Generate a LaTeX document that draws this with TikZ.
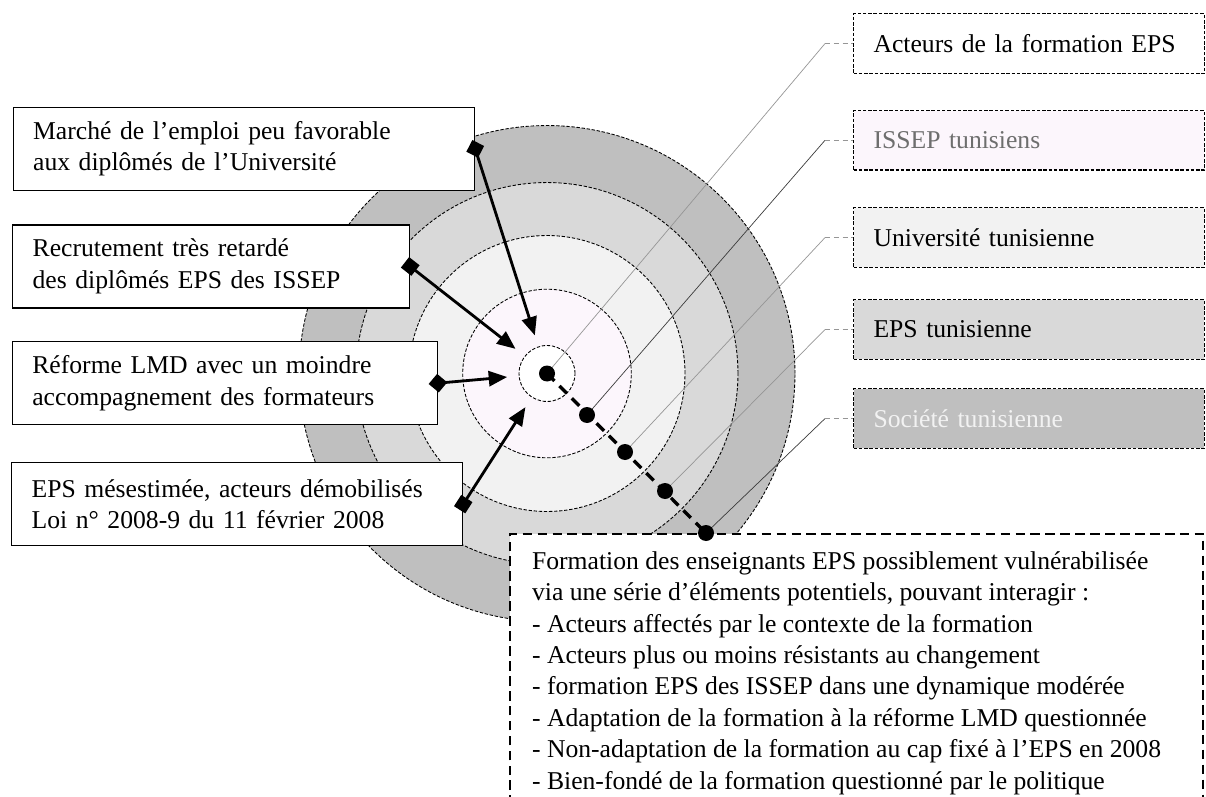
\documentclass[tikz,border=0pt]{standalone}
\usepackage{fontspec}
\setmainfont{Liberation Serif}
\usetikzlibrary{arrows.meta, calc}
\definecolor{soc}{RGB}{191,191,191}
\definecolor{eps}{RGB}{217,217,217}
\definecolor{univ}{RGB}{242,242,242}
\definecolor{issep}{RGB}{252,246,252}
\definecolor{greytxt}{RGB}{110,110,110}
\definecolor{lightlead}{RGB}{150,150,150}
\definecolor{darklead}{RGB}{60,60,60}

\begin{document}
\begin{tikzpicture}[x=0.02cm, y=-0.02cm,
		every node/.style={font=\fontsize{14.6}{17.9}\selectfont},
		ring/.style={draw=black, line width=0.5pt, dash pattern=on 1.9pt off 1pt},
		causebox/.style={draw=black, line width=0.75pt, fill=white, anchor=north west, align=left, inner xsep=0.4cm, minimum height=1.66cm, text width=#1},
		levelbox/.style={draw=black, line width=0.6pt, dash pattern=on 2pt off 1pt, anchor=north west, align=left, inner xsep=0.4cm, minimum height=1.19cm, text width=6.22cm},
		diapush/.style={line width=1.6pt, shorten <=-5.3pt, {Diamond[length=10.6pt, width=10.6pt]}-{Triangle[length=10.5pt, width=8.6pt]}},
		sqpush/.style={line width=1.6pt, shorten <=-3.8pt, {Square[length=7.6pt, width=7.6pt]}-{Triangle[length=10.5pt, width=8.6pt]}},
		leader/.style={line width=0.4pt}]
		\useasboundingbox (0,0) rectangle (1206,797);
		\coordinate (p0) at (547,373.5);
		\coordinate (p1) at (587,415);
		\coordinate (p2) at (625,452);
		\coordinate (p3) at (665,491);
		\coordinate (p4) at (706,533);
		\foreach \r/\c in {4.96cm/soc, 3.82cm/eps, 2.76cm/univ, 1.686cm/issep, 0.56cm/white}
			\draw[ring, fill=\c] (p0) circle[radius=\r];
		\draw[line width=0.7pt, dash pattern=on 5.5pt off 3pt, fill=white] (510,820) -- (510,534) -- (1203,534) -- (1203,820);
		\node[anchor=north west, inner sep=0pt, align=left] (vuln) at (531.7,551) {Formation des enseignants EPS possiblement vulnérabilisée\\via une série d’éléments potentiels, pouvant interagir :\\- Acteurs affectés par le contexte de la formation\\- Acteurs plus ou moins résistants au changement\\- formation EPS des ISSEP dans une dynamique modérée\\- Adaptation de la formation à la réforme LMD questionnée\\- Non-adaptation de la formation au cap fixé à l’EPS en 2008\\- Bien-fondé de la formation questionné par le politique};
		\node[causebox=8.43cm] (cause1) at (12.5,106.7) {Marché de l’emploi peu favorable\\aux diplômés de l’Université};
		\node[causebox=7.14cm] (cause2) at (12,224.3) {Recrutement très retardé\\des diplômés EPS des ISSEP};
		\node[causebox=7.7cm] (cause3) at (11.7,341) {Réforme LMD avec un moindre\\accompagnement des formateurs};
		\node[causebox=8.22cm] (cause4) at (11,462) {EPS mésestimée, acteurs démobilisés\\Loi n° 2008-9 du 11 février 2008};
		\node[levelbox, fill=white] (lvl0) at (853,13.3) {Acteurs de la formation EPS};
		\node[levelbox, fill=issep, text=greytxt] (lvl1) at (853,110) {ISSEP tunisiens};
		\node[levelbox, fill=univ] (lvl2) at (853,207.3) {Université tunisienne};
		\node[levelbox, fill=eps] (lvl3) at (853,299.3) {EPS tunisienne};
		\node[levelbox, fill=soc, text=white!95!black] (lvl4) at (853,388.3) {Société tunisienne};
		\draw[diapush] (cause1.east) -- ($(p0)!0.8cm!(cause1.east)$);
		\draw[sqpush] (cause2.east) -- ($(p0)!0.8cm!(cause2.east)$);
		\draw[diapush] (cause3.east) -- ($(p0)!0.8cm!(cause3.east)$);
		\draw[sqpush] (cause4.east) -- ($(p0)!0.8cm!(cause4.east)$);
		\foreach \p/\l/\c in {p0/lvl0/lightlead, p1/lvl1/darklead, p2/lvl2/lightlead, p3/lvl3/lightlead, p4/lvl4/darklead} {
			\draw[leader, draw=\c] (\p) -- ([xshift=-0.56cm]\l.west);
			\draw[leader, draw=lightlead, densely dashed] ([xshift=-0.56cm]\l.west) -- (\l.west);
		}
		\draw[line width=1.9pt, dash pattern=on 6pt off 4pt] (p0) -- (p4);
		\foreach \p in {p0,p1,p2,p3,p4}
			\fill (\p) circle[radius=0.16cm];
	\end{tikzpicture}
\end{document}
